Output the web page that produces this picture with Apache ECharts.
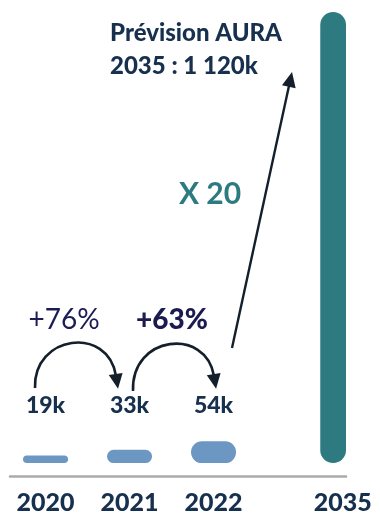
<!DOCTYPE html>
<html>
<head>
<meta charset="utf-8">
<script src="https://cdn.jsdelivr.net/npm/echarts@6/dist/echarts.min.js"></script>
<style>
  html, body { margin: 0; padding: 0; background: #ffffff; }
  #chart { width: 380px; height: 515px; }
</style>
</head>
<body>
<div id="chart"></div>
<script>
// Passages (milliers) par année, dernière barre = prévision
const years = ['2020', '2021', '2022', '2035'];
const values = [19, 33, 54, 1120];
const isForecast = [false, false, false, true];
const growthLabels = ['+76%', '+63%'];
const forecastTitle = ['Prévision AURA', '2035 : 1 120k'];
const multiplierLabel = 'X 20';

// Layout: the category axis is split into narrow slots so that the
// years can sit at uneven horizontal distances.
const SLOT_COUNT = 52;
const slotOfYear = [5, 18, 31, 51];

const NAVY = '#17304d';
const BLUE = '#6b97c2';
const TEAL = '#2e7a81';
const INK = '#141f2c';
const FONT = 'Lato, "Noto Sans", sans-serif';

const categories = new Array(SLOT_COUNT).fill('');
const barData = new Array(SLOT_COUNT).fill('-');
years.forEach((y, i) => {
  categories[slotOfYear[i]] = y;
  barData[slotOfYear[i]] = {
    value: values[i],
    itemStyle: { color: isForecast[i] ? TEAL : BLUE },
    label: { show: !isForecast[i] }
  };
});

const chart = echarts.init(document.getElementById('chart'), null, { renderer: 'canvas' });

// Cubic curve with an arrowhead at its end, oriented along the end tangent
function curvedArrow(p0, p1, p2, p3, headLen, headHalf) {
  const dx = p3[0] - p2[0], dy = p3[1] - p2[1];
  const len = Math.hypot(dx, dy);
  const ux = dx / len, uy = dy / len;
  const tip = [p3[0] + ux * headLen, p3[1] + uy * headLen];
  const back = [p3[0] - ux * 2, p3[1] - uy * 2];
  return [
    {
      type: 'bezierCurve',
      shape: { x1: p0[0], y1: p0[1], cpx1: p1[0], cpy1: p1[1], cpx2: p2[0], cpy2: p2[1], x2: p3[0], y2: p3[1] },
      style: { stroke: INK, lineWidth: 2.6, fill: null }
    },
    {
      type: 'polygon',
      shape: { points: [tip, [back[0] - uy * headHalf, back[1] + ux * headHalf], [back[0] + uy * headHalf, back[1] - ux * headHalf]] },
      style: { fill: INK }
    }
  ];
}

function straightArrow(from, to, headLen, headHalf) {
  const dx = to[0] - from[0], dy = to[1] - from[1];
  const len = Math.hypot(dx, dy);
  const ux = dx / len, uy = dy / len;
  const base = [to[0] - ux * headLen, to[1] - uy * headLen];
  return [
    {
      type: 'line',
      shape: { x1: from[0], y1: from[1], x2: base[0] + ux * 2, y2: base[1] + uy * 2 },
      style: { stroke: INK, lineWidth: 2.4 }
    },
    {
      type: 'polygon',
      shape: { points: [to, [base[0] - uy * headHalf, base[1] + ux * headHalf], [base[0] + uy * headHalf, base[1] - ux * headHalf]] },
      style: { fill: INK }
    }
  ];
}

const graphics = [
  {
    type: 'text', left: 110, top: 17,
    style: { text: forecastTitle.join('\n'), fill: NAVY, font: '900 24px ' + FONT, lineHeight: 33 }
  },
  {
    type: 'text', x: 210, y: 194,
    style: { text: multiplierLabel, fill: TEAL, font: 'bold 30px ' + FONT, align: 'center', verticalAlign: 'middle' }
  },
  {
    type: 'text', x: 64, y: 320,
    style: { text: growthLabels[0], fill: '#1b1b55', font: '28px ' + FONT, align: 'center', verticalAlign: 'middle' }
  },
  {
    type: 'text', x: 172, y: 320,
    style: { text: growthLabels[1], fill: '#1b1b50', font: '900 28px ' + FONT, align: 'center', verticalAlign: 'middle' }
  },
  ...curvedArrow([35, 388], [33, 335], [108, 325], [116, 376], 13, 7),
  ...curvedArrow([133, 391], [131, 335], [206, 327], [214, 376], 13, 7),
  ...straightArrow([232, 348], [292, 72], 15, 7)
];

chart.setOption({
  animation: false,
  backgroundColor: '#ffffff',
  grid: { left: 10, right: 34, top: 12, bottom: 36 },
  xAxis: {
    type: 'category',
    data: categories,
    axisTick: { show: false },
    axisLine: { onZero: false, lineStyle: { color: '#aaaaaa', width: 2.5 } },
    axisLabel: {
      interval: 0, margin: 14,
      color: NAVY, fontFamily: FONT, fontWeight: 900, fontSize: 25
    }
  },
  yAxis: {
    type: 'value', min: -32, max: 1120,
    show: false, splitLine: { show: false }
  },
  series: [{
    type: 'bar',
    data: barData,
    barWidth: 45,
    itemStyle: { borderRadius: 22.5 },
    label: {
      position: 'insideBottom', distance: 0, offset: [0, -46],
      formatter: p => p.value + 'k',
      color: NAVY, fontFamily: FONT, fontWeight: 900, fontSize: 23
    }
  }],
  graphic: graphics
});
</script>
</body>
</html>
